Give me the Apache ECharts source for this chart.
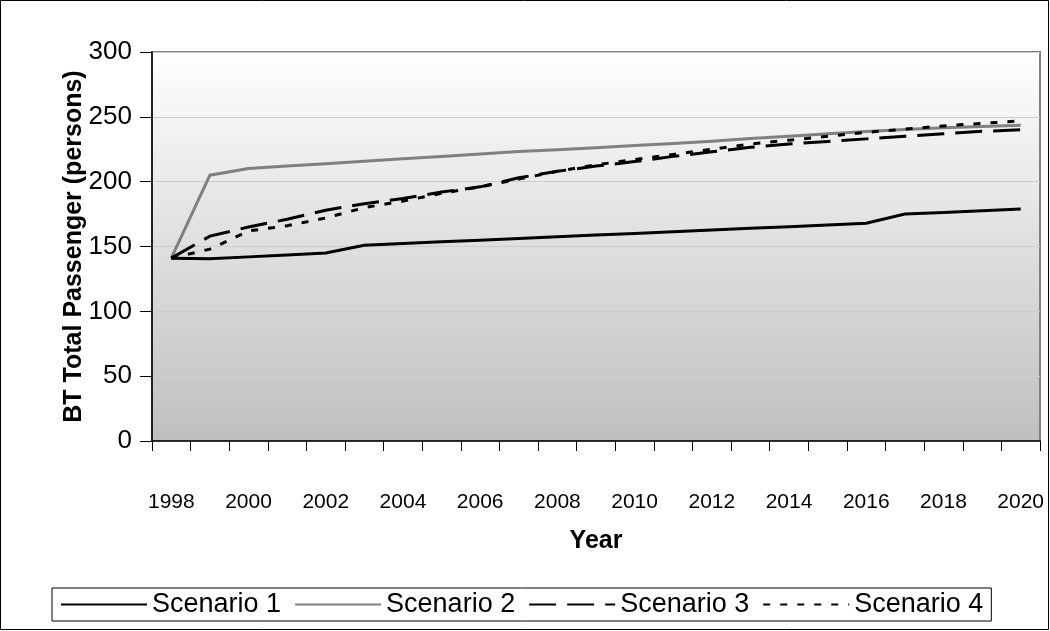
<!DOCTYPE html>
<html>
<head>
<meta charset="utf-8">
<script src="https://cdn.jsdelivr.net/npm/echarts@6/dist/echarts.min.js"></script>
<style>
  html, body { margin: 0; padding: 0; background: #ffffff; }
  #chart { width: 1050px; height: 631px; }
</style>
</head>
<body>
<div id="chart"></div>
<script>
// Years on the category axis
const years = ['1998','1999','2000','2001','2002','2003','2004','2005','2006','2007','2008',
               '2009','2010','2011','2012','2013','2014','2015','2016','2017','2018','2019','2020'];

// BT total passengers (persons) per scenario
const scenario1 = [141, 140.5, 142, 143.5, 145, 151, 152.3, 153.6, 154.9, 156.2, 157.5,
                   158.8, 160.1, 161.4, 162.7, 164, 165.3, 166.6, 168, 175, 176.3, 177.6, 179];
const scenario2 = [141, 205, 210.2, 212.1, 213.9, 215.7, 217.6, 219.5, 221.4, 223.2, 224.6,
                   226.2, 227.8, 229.4, 231.2, 233.2, 235.1, 236.9, 238.6, 240.2, 241.5, 242.6, 243.6];
const scenario3 = [141, 158, 165, 171, 178, 183, 187, 192, 196, 203, 208,
                   212, 215.5, 219.5, 223, 226.5, 229, 231, 233, 235, 237, 238.8, 240];
const scenario4 = [141, 148, 162, 166, 172, 180, 185, 191, 196, 202, 208,
                   213, 217, 221, 225, 229, 232, 235, 238, 240.5, 243, 245, 246.8];

const yTicks = { min: 0, max: 300, interval: 50 };

const FONT = 'Liberation Sans, Arial, sans-serif';

const chart = echarts.init(document.getElementById('chart'), null, { renderer: 'canvas' });

const lineSeries = (name, data, color, width, type) => ({
  name: name,
  type: 'line',
  data: data,
  symbol: 'none',
  animation: false,
  lineStyle: { color: color, width: width, type: type, cap: 'butt', join: 'miter' },
  itemStyle: { color: color }
});

chart.setOption({
  backgroundColor: '#ffffff',
  animation: false,
  graphic: [{
    type: 'rect',
    shape: { x: 0.5, y: 0.5, width: 1048, height: 629 },
    style: { fill: 'none', stroke: '#000000', lineWidth: 1 },
    silent: true,
    z: -1
  }],
  grid: {
    left: 152, right: 10, top: 52, bottom: 190,
    show: true,
    borderColor: '#808080',
    borderWidth: 2,
    backgroundColor: {
      type: 'linear', x: 0, y: 0, x2: 0, y2: 1,
      colorStops: [
        { offset: 0, color: '#ffffff' },
        { offset: 1, color: '#bfbfbf' }
      ]
    }
  },
  xAxis: {
    type: 'category',
    data: years,
    boundaryGap: true,
    name: 'Year',
    nameLocation: 'middle',
    nameGap: 88,
    nameMoveOverlap: false,
    nameTextStyle: { fontFamily: FONT, fontSize: 25, fontWeight: 'bold', color: '#000' },
    axisLine: { lineStyle: { color: '#000', width: 1.5 } },
    axisTick: { show: true, interval: 0, length: 10, lineStyle: { color: '#000', width: 1 } },
    axisLabel: { interval: 1, margin: 51, fontFamily: FONT, fontSize: 21, color: '#000' },
    splitLine: { show: false }
  },
  yAxis: {
    type: 'value',
    min: yTicks.min, max: yTicks.max, interval: yTicks.interval,
    name: 'BT Total Passenger (persons)',
    nameLocation: 'middle',
    nameGap: 65,
    nameRotate: 90,
    nameMoveOverlap: false,
    nameTextStyle: { fontFamily: FONT, fontSize: 25, fontWeight: 'bold', color: '#000' },
    axisLine: { show: true, lineStyle: { color: '#000', width: 1.5 } },
    axisTick: { show: true, length: 12, lineStyle: { color: '#000', width: 1 } },
    axisLabel: { margin: 20, fontFamily: FONT, fontSize: 26, color: '#000' },
    splitLine: { show: true, lineStyle: { color: '#cccccc', width: 1.2 } }
  },
  legend: {
    bottom: 10,
    left: 52,
    itemWidth: 86,
    itemHeight: 14,
    itemGap: 13,
    padding: [3, 8, 3, 8],
    borderColor: '#000',
    borderWidth: 1,
    backgroundColor: '#ffffff',
    itemStyle: { opacity: 0 },
    textStyle: { fontFamily: FONT, fontSize: 27, color: '#000' },
    data: ['Scenario 1', 'Scenario 2', 'Scenario 3', 'Scenario 4']
  },
  series: [
    lineSeries('Scenario 1', scenario1, '#000000', 3, 'solid'),
    lineSeries('Scenario 2', scenario2, '#808080', 3, 'solid'),
    lineSeries('Scenario 3', scenario3, '#000000', 3, [27, 11]),
    lineSeries('Scenario 4', scenario4, '#000000', 3, [7, 10])
  ]
});
</script>
</body>
</html>
